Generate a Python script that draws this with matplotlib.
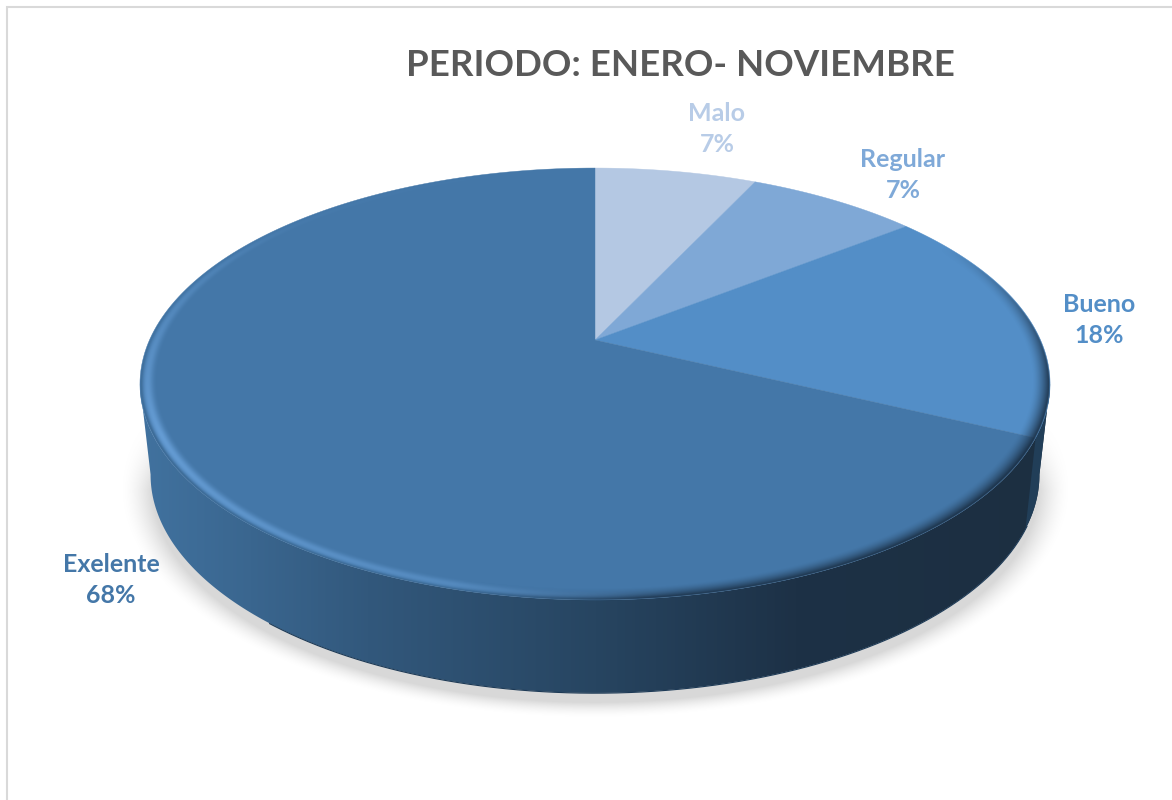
import numpy as np
import matplotlib
matplotlib.use("Agg")
import matplotlib.pyplot as plt
from matplotlib.patches import Polygon
from matplotlib.colors import to_rgb, LinearSegmentedColormap

plt.rcParams['font.family'] = ['Lato', 'DejaVu Sans']

# data, clockwise from the top
categories = ["Malo", "Regular", "Bueno", "Exelente"]
values = [7.0, 7.4, 17.7, 67.9]
slice_colors = ["#b4c8e3", "#7fa8d6", "#538ec7", "#4477a8"]
label_colors = ["#b8cce7", "#7fa9d8", "#538ec7", "#4477a8"]
label_pos = [(717, 129), (903, 175), (1099, 320), (111, 580)]
title = "PERIODO: ENERO- NOVIEMBRE"

W, H = 1172, 800
CX, CY = 595, 340      # apex of the slices in pixels
A, B, K = 445.5, 207, 0.2037


def top_face(deg, r=1.0):
    # point of the disc in perspective, deg is clockwise from the top
    t = np.radians(deg)
    u, v = r * np.sin(t), r * np.cos(t)
    d = 1 + K * v
    return CX + A * u / d, CY - B * v / d


def bottom_edge(deg):
    # lower rim of the pie: same disc, pushed down and a bit narrower
    t = np.radians(deg)
    u, v = np.sin(t), np.cos(t)
    d = 1 + 0.205 * v
    return 595 + 435 * u / d, 430 - 209 * v / d


def soft(x, lo, hi):
    return np.clip((x - lo) / (hi - lo), 0, 1)


fig = plt.figure(figsize=(W / 100, H / 100), dpi=100)
ax = fig.add_axes([0, 0, 1, 1])
ax.set_xlim(0, W)
ax.set_ylim(H, 0)
ax.axis("off")

# soft shadow under the pie
yy, xx = np.mgrid[0:H, 0:W]
dist = np.sqrt(((xx - 595) / 447.0) ** 2 + ((yy - 488) / 216.0) ** 2)
rgba = np.ones((H, W, 4))
rgba[..., :3] = 0.85
rgba[..., 3] = soft(1.06 - dist, 0, 0.07) ** 1.6 * soft(yy, 420, 490)
ax.imshow(rgba, extent=(0, W, H, 0), aspect="auto", zorder=1)

# side wall with left to right gradient
edge_deg = np.degrees(np.arccos(-K))
angles = np.linspace(edge_deg, 360 - edge_deg, 240)
tx, ty = top_face(angles)
bx, by = bottom_edge(angles)
wall = Polygon(np.r_[np.c_[tx, ty], np.c_[bx, by][::-1]], closed=True, fc="none", ec="none", zorder=2)
ax.add_patch(wall)
side_cmap = LinearSegmentedColormap.from_list("side", [
    (0.00, "#41729f"), (0.12, "#3a668f"), (0.25, "#32587c"),
    (0.50, "#274561"), (0.72, "#1d3146"), (1.00, "#1c2f41")])
grad = ax.imshow(np.linspace(0, 1, 512)[None, :], extent=(140, 1052, 720, 360), cmap=side_cmap,
                 aspect="auto", zorder=2)
grad.set_clip_path(wall)
ax.plot(bx[20:-60], by[20:-60] + 0.3, color="#1d3a56", lw=0.8, zorder=3)

# top face slices
start = 0.0
for val, col in zip(values, slice_colors):
    stop = start + val / sum(values) * 360
    deg = np.linspace(start, stop, 200)
    x, y = top_face(deg)
    ax.add_patch(Polygon(np.r_[[[CX, CY]], np.c_[x, y]], closed=True, fc=col, ec=col, lw=0.3, zorder=4))
    # wall of the Bueno slice is a bit lighter than the rest
    if col == slice_colors[2]:
        deg = np.linspace(edge_deg, stop, 60)
        x, y = top_face(deg)
        x2, y2 = bottom_edge(deg)
        ax.add_patch(Polygon(np.r_[np.c_[x, y], np.c_[x2, y2][::-1]], closed=True, fc="#213e58", ec="none", zorder=3))
    start = stop

# bevel along the rim, worked out per pixel at twice the size
gy, gx = np.mgrid[0:H * 2, 0:W * 2] / 2.0
px, py = (gx - CX) / A, (CY - gy) / B
v = py / (1 - K * py)
u = px * (1 + K * v)
R = np.hypot(u, v)
D = np.degrees(np.arctan2(u, v)) % 360
s = soft(R, 0.962, 1.0)
inside = soft(1.0 - R, 0, 0.003)

dark_amt = np.interp(D, [60, 100, 120, 175, 195, 360], [0, 0.9, 1, 0.9, 0, 0])
light_amt = np.interp(D, [170, 195, 245, 275, 310, 360], [0, 0.5, 1, 0.5, 0.08, 0])
lip_amt = np.interp(D, [170, 195, 245, 280, 300, 360], [0, 0.7, 0.8, 0.2, 0, 0])

dark = np.zeros(R.shape + (4,))
dark[..., :3] = to_rgb("#16293b")
dark[..., 3] = dark_amt * s ** 1.6 * inside
light = np.zeros(R.shape + (4,))
light[..., :3] = to_rgb("#6ba3dc")
light[..., 3] = light_amt * np.sin(np.pi * s ** 1.3) ** 2 * 0.85 * inside
lip = np.zeros(R.shape + (4,))
lip[..., :3] = to_rgb("#2f5475")
lip[..., 3] = lip_amt * soft(s, 0.75, 1.0) ** 2 * inside
for layer in (dark, light, lip):
    ax.imshow(layer, extent=(0, W, H, 0), aspect="auto", zorder=5, interpolation="antialiased")
ax.set_xlim(0, W)
ax.set_ylim(H, 0)

# frame of the chart area
ax.plot([7, 7, W], [H, 7, 7], color="#d9d9d9", lw=1.5, zorder=6, solid_joinstyle="miter")

ax.text(680, 65, title, ha="center", va="center", fontsize=26.4, fontweight="bold", color="#595959", zorder=7)
for name, val, col, (lx, ly) in zip(categories, values, label_colors, label_pos):
    pct = round(val / sum(values) * 100)
    ax.text(lx, ly, f"{name}\n{pct}%", ha="center", va="center", fontsize=18, fontweight="bold",
            color=col, linespacing=1.4, zorder=7)

fig.savefig("out.png", dpi=100)
